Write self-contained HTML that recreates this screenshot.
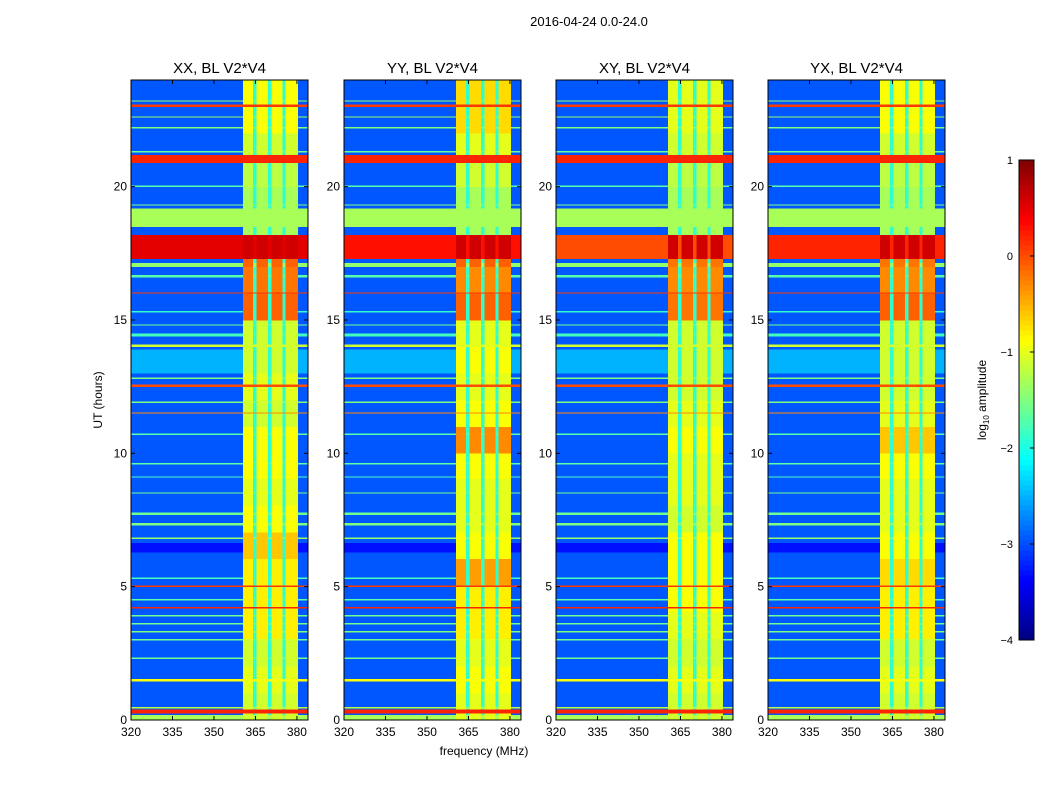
<!DOCTYPE html>
<html><head><meta charset="utf-8">
<style>
body{margin:0;background:#fff;font-family:"Liberation Sans",sans-serif;}
#wrap{position:relative;width:1050px;height:800px;overflow:hidden;}
svg text{font-family:"Liberation Sans",sans-serif;}
</style></head>
<body>
<div id="wrap">
<svg id="svg" width="1050" height="800"></svg>
</div>
<script>
// ---- data ----
const panelTitles = ["XX, BL V2*V4","YY, BL V2*V4","XY, BL V2*V4","YX, BL V2*V4"];
const xTicks = [320,335,350,365,380];
const yTicks = [0,5,10,15,20];
const cbTicks = [1,0,-1,-2,-3,-4];
const baseLevel = -2.95;
// horizontal lines: start time, end time, log amplitude
const lineStart = [0.0,0.25,0.45,1.45,2.3,3.0,3.3,3.6,3.9,4.2,4.5,5.0,5.3,6.3,6.8,7.3,7.7,8.5,9.1,9.6,10.7,11.5,11.9,12.5,12.8,13.0,14.0,14.4,14.8,15.3,16.0,16.6,17.0,18.5,19.3,20.0,20.9,21.3,22.2,22.6,23.0,23.2];
const lineEnd   = [0.2,0.4,0.5,1.55,2.35,3.05,3.35,3.65,3.95,4.25,4.55,5.05,5.35,6.65,6.85,7.4,7.8,8.55,9.15,9.65,10.75,11.55,11.95,12.6,12.85,13.9,14.1,14.5,14.85,15.35,16.05,16.7,17.15,19.2,19.35,20.05,21.2,21.35,22.25,22.65,23.1,23.25];
const lineVal   = [-1.3,0.2,-1.2,-0.9,-1.6,-1.6,-1.5,-1.6,-1.6,0.2,-1.7,0.1,-1.8,-3.3,-1.4,-1.5,-1.6,-1.6,-1.8,-1.7,-1.7,-0.3,-1.5,0.0,-1.5,-2.5,-1.1,-1.8,-1.6,-1.9,0.1,-1.7,-1.4,-1.3,-1.5,-1.7,0.2,-1.6,-1.5,-1.4,0.1,-1.4];
// RFI block (MHz) and its gaps
const rfiLow = 360.5, rfiHigh = 380.3;
const rfiGaps = [364.8,370.2,375.3];
// hourly RFI level inside the block for each panel (24 hours)
const rfiXX = [-1.1,-1.0,-1.1,-0.8,-0.8,-0.8,-0.6,-0.9,-1.0,-0.9,-0.9,-1.1,-1.0,-1.1,-1.1,-0.1,-0.2,-0.1,-1.3,-1.3,-1.2,-1.1,-0.9,-0.9];
const rfiYY = [-1.0,-0.9,-1.0,-0.8,-0.8,-0.4,-0.9,-1.0,-1.0,-0.9,-0.3,-0.9,-1.0,-0.9,-1.0,-0.1,-0.3,-0.1,-1.3,-1.3,-1.1,-1.0,-0.7,-0.7];
const rfiXY = [-1.1,-1.0,-1.1,-1.0,-0.9,-0.9,-0.9,-1.1,-1.0,-1.0,-0.9,-1.0,-1.1,-1.1,-1.1,-0.2,-0.3,-0.2,-1.3,-1.3,-1.2,-1.1,-1.0,-1.0];
const rfiYX = [-1.1,-1.0,-1.1,-0.8,-0.8,-0.7,-0.9,-1.0,-1.0,-0.9,-0.6,-1.0,-1.1,-1.1,-1.1,-0.1,-0.3,-0.2,-1.3,-1.3,-1.2,-1.1,-0.9,-0.9];
const rfiLevels = [rfiXX,rfiYY,rfiXY,rfiYX];
// strong broadband band around 17.3-18.2 h, per panel
const bandVal = [0.5,0.3,0.0,0.2];

// ---- layout ----
const NS="http://www.w3.org/2000/svg";
const svg=document.getElementById('svg');
const panelX=[131,344,556,768], PW=177, PT=80, PH=640;
const fMin=320,fMax=384,tMin=0,tMax=24;
function xs(i,f){return panelX[i]+(f-fMin)/(fMax-fMin)*PW;}
function ys(t){return PT+PH-(t-tMin)/(tMax-tMin)*PH;}
function jet(v){let t=Math.max(0,Math.min(1,(v+4)/5));
 const r=Math.max(0,Math.min(1,Math.min(4*t-1.5,-4*t+4.5)));
 const g=Math.max(0,Math.min(1,Math.min(4*t-0.5,-4*t+3.5)));
 const b=Math.max(0,Math.min(1,Math.min(4*t+0.5,-4*t+2.5)));
 return `rgb(${Math.round(r*255)},${Math.round(g*255)},${Math.round(b*255)})`;}
function el(tag,attrs,parent){const e=document.createElementNS(NS,tag);for(const k in attrs)e.setAttribute(k,attrs[k]);(parent||svg).appendChild(e);return e;}
function txt(x,y,s,size,anchor,parent){const e=el('text',{x:x,y:y,'font-size':size,'text-anchor':anchor||'middle',fill:'#000'},parent);e.textContent=s;return e;}

const st=txt(589,26,"2016-04-24 0.0-24.0",13);



function rowValue(p,t){
 let v=baseLevel;
 for(let k=0;k<lineStart.length;k++){ if(t>=lineStart[k]&&t<lineEnd[k]) v=(lineVal[k]<-3.2?lineVal[k]:Math.max(v,lineVal[k])); }
 if(t>=17.3&&t<18.2) v=Math.max(v,bandVal[p]);
 return v;}

const dt=0.05;
for(let p=0;p<4;p++){
 const g=el('g',{});
 
 
 const cells=el('g',{'shape-rendering':'crispEdges'},g);
 
 
 const cols=[[fMin,rfiLow,'bg']];
 let prev=rfiLow;
 rfiGaps.forEach(gf=>{cols.push([prev,gf-0.6,'rfi']);cols.push([gf-0.6,gf+0.6,'gap']);prev=gf+0.6;});
 cols.push([prev,rfiHigh,'rfi']);cols.push([rfiHigh,fMax,'bg']);
 for(let t=0;t<tMax-1e-9;t+=dt){
  const rv=rowValue(p,t+dt/2);
  const rl=rfiLevels[p][Math.floor(t)];
  cols.forEach(c=>{
   let v=rv;
   if(c[2]==='rfi') v=(t>=17.3&&t<18.2)?Math.max(rv,0.6):Math.max(rv,rl);
   else if(c[2]==='gap') v=Math.max(rv,-1.9);
   const r=el('rect',{x:xs(p,c[0]).toFixed(2),y:ys(t+dt).toFixed(2),width:(xs(p,c[1])-xs(p,c[0])).toFixed(2),height:(ys(t)-ys(t+dt)+0.3).toFixed(2),fill:jet(v)},cells);
   
   
  });
 }
 const fr=el('rect',{x:panelX[p],y:PT,width:PW,height:PH,fill:'none',stroke:'#000','stroke-width':1},g);
 
 
 const tt=txt(panelX[p]+PW/2,73,panelTitles[p],15,'middle',g);
 
 
 xTicks.forEach(f=>{const x=xs(p,f);
  el('line',{x1:x,x2:x,y1:PT+PH,y2:PT+PH-4,stroke:'#000'},g);
  el('line',{x1:x,x2:x,y1:PT,y2:PT+4,stroke:'#000'},g);
  const l=txt(x,736,String(f),12,'middle',g);
  
  });
 yTicks.forEach(v=>{const y=ys(v);
  el('line',{x1:panelX[p],x2:panelX[p]+4,y1:y,y2:y,stroke:'#000'},g);
  el('line',{x1:panelX[p]+PW,x2:panelX[p]+PW-4,y1:y,y2:y,stroke:'#000'},g);
  const l=txt(panelX[p]-4,y+4,String(v),12,'end',g);
  
  });
}
const xl=txt(484,755,"frequency (MHz)",12);


const yl=txt(0,0,"UT (hours)",12);
yl.setAttribute('transform','translate(102,400) rotate(-90)');



const cb=el('g',{});


const cbX=1019,cbW=15,cbTop=160,cbBot=640;
for(let i=0;i<96;i++){const v=-4+5*i/96;
 const y0=cbBot-(v+5/96+4)/5*(cbBot-cbTop);
 el('rect',{x:cbX,y:y0,width:cbW,height:(cbBot-cbTop)/96+0.5,fill:jet(v+2.5/96),'shape-rendering':'crispEdges'},cb);}
el('rect',{x:cbX,y:cbTop,width:cbW,height:cbBot-cbTop,fill:'none',stroke:'#000'},cb);
cbTicks.forEach(v=>{const y=cbBot-(v+4)/5*(cbBot-cbTop);
 el('line',{x1:cbX+cbW-4,x2:cbX+cbW,y1:y,y2:y,stroke:'#000'},cb);
 const l=txt(1013,y+4,v<0?'\u2212'+Math.abs(v):String(v),11,'end',cb);
 
 });
const cl=el('text',{transform:'translate(986,400) rotate(-90)','font-size':12,'text-anchor':'middle'},cb);
cl.innerHTML='log<tspan font-size="8" dy="3">10</tspan><tspan dy="-3"> amplitude</tspan>';


</script>
</body></html>
